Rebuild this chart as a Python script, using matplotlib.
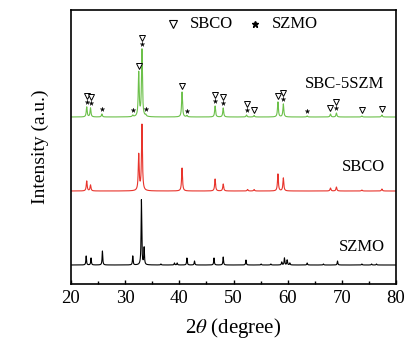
import numpy as np
import matplotlib
matplotlib.use("Agg")
import matplotlib.pyplot as plt

plt.rcParams['font.family'] = ['Liberation Serif', 'DejaVu Serif']
plt.rcParams['mathtext.fontset'] = 'stix'

# Peak lists: position (2theta, deg) and height (a.u.)
sbc5szm_pos = [22.9, 23.6, 25.7, 31.4, 32.5, 33.1, 33.8, 40.5, 41.4, 46.6, 48.1,
               52.4, 53.8, 58.2, 59.2, 63.6, 67.9, 69.0, 73.7, 77.4]
sbc5szm_h   = [10, 9, 3, 1.5, 44, 67, 1.5, 25, 1.5, 11, 9,
               2, 1.5, 15, 13, 1, 3, 4, 1, 2]
sbco_pos = [22.9, 23.6, 32.5, 33.1, 40.5, 46.6, 48.1, 52.6, 53.8, 58.2, 59.2,
            67.9, 69.0, 73.7, 77.4]
sbco_h   = [10, 6, 36, 66, 23, 12, 7, 1.5, 1.5, 17, 13,
            3, 4, 1, 2]
szmo_pos = [22.8, 23.7, 25.8, 31.4, 33.0, 33.5, 36.6, 39.1, 39.6, 41.4, 42.8,
            46.4, 48.1, 52.3, 55.1, 56.9, 58.9, 59.4, 59.9, 60.4, 63.6, 66.6,
            69.2, 73.7, 75.5, 76.4]
szmo_h   = [9, 7, 14, 9, 65, 17, 1, 2, 2, 7, 4,
            7, 8, 5, 1, 1, 3, 7, 5, 2, 2, 1,
            4, 1, 1, 1]

offsets = {'SZMO': 19, 'SBCO': 93, 'SBC-5SZM': 167}

# Phase marker positions on SBC-5SZM pattern
tri_pos  = [22.9, 23.6, 32.5, 33.1, 40.5, 46.6, 48.1, 52.4, 53.8, 58.2, 59.2,
            67.9, 69.0, 73.7, 77.4]
star_pos = [22.9, 23.6, 25.7, 31.4, 33.1, 33.8, 41.4, 46.6, 48.1, 52.4, 59.2,
            63.6, 69.0]

x = np.linspace(20, 80, 12001)

def profile(pos, h, w):
    y = np.zeros_like(x)
    for p, a in zip(pos, h):
        y += a / (1 + ((x - p) / w) ** 2)
    return y

fig = plt.figure(figsize=(4.1, 3.5), dpi=100)
ax = fig.add_axes([71/410, 1-284/350, 325/410, 274/350])

g = profile(sbc5szm_pos, sbc5szm_h, 0.1) + offsets['SBC-5SZM']
r = profile(sbco_pos, sbco_h, 0.1) + offsets['SBCO']
k = profile(szmo_pos, szmo_h, 0.07) + offsets['SZMO']

ax.plot(x, k, color='black', lw=0.8)
ax.plot(x, r, color='#e8342c', lw=0.8)
ax.plot(x, g, color='#6cc04a', lw=0.8)

def local_top(p):
    m = (x > p - 0.25) & (x < p + 0.25)
    return g[m].max()

for p in star_pos:
    ax.plot(p, local_top(p) + 4.5, marker='*', ms=3.5, color='black', mec='black', mew=0.2)
for p in tri_pos:
    y0 = local_top(p) + (11.0 if p in star_pos else 5.5)
    ax.plot(p, y0, marker='v', ms=4.5, mfc='white', mec='black', mew=0.7)

# legend
ax.plot(38.9, 260, marker='v', ms=5.5, mfc='white', mec='black', mew=0.8)
ax.text(42.0, 260, 'SBCO', fontsize=12, va='center', ha='left')
ax.plot(54.0, 260, marker='*', ms=4.5, color='black')
ax.text(57.0, 260, 'SZMO', fontsize=12, va='center', ha='left')

ax.text(77.9, 200, 'SBC-5SZM', fontsize=12, ha='right', va='center')
ax.text(77.9, 117, 'SBCO', fontsize=12, ha='right', va='center')
ax.text(77.9, 37, 'SZMO', fontsize=12, ha='right', va='center')

ax.set_xlim(20, 80)
ax.set_ylim(0, 274)
ax.set_xticks(np.arange(20, 81, 10))
ax.set_xticks(np.arange(25, 80, 10), minor=True)
ax.set_yticks([])
ax.tick_params(axis='x', which='both', direction='in', length=3, width=1, labelsize=13.5, pad=4)
ax.tick_params(axis='x', which='minor', length=2)
for s in ax.spines.values():
    s.set_linewidth(1.2)
ax.set_xlabel(r'2$\theta$ (degree)', fontsize=15, labelpad=7)
ax.set_ylabel('Intensity (a.u.)', fontsize=14, labelpad=16)

fig.savefig('out.png', dpi=100)
